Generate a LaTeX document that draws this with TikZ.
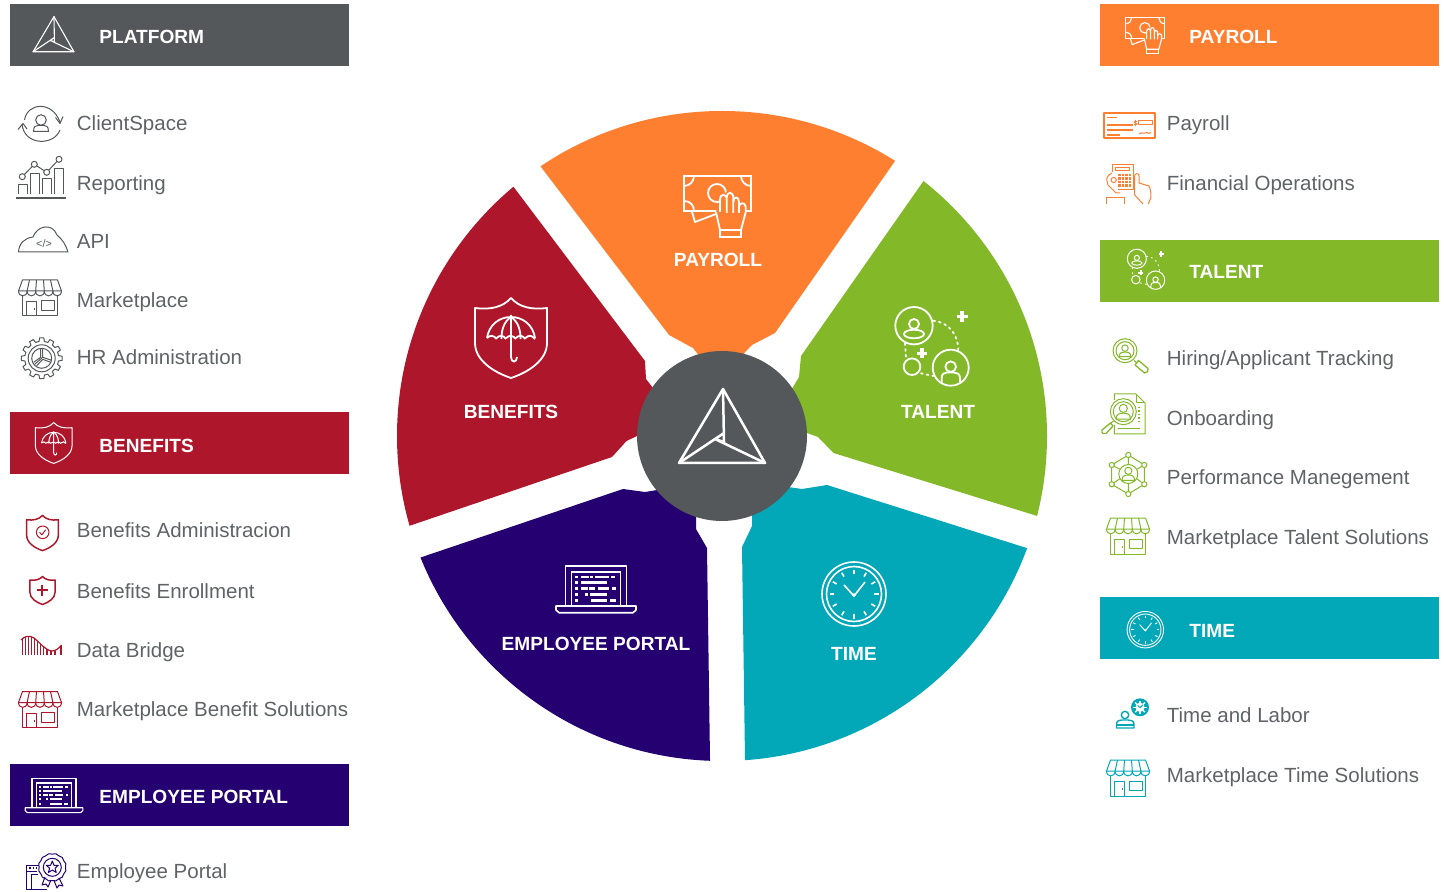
\documentclass[tikz,border=0pt]{standalone}
\usepackage{fontspec}
\setmainfont{Liberation Sans}
\definecolor{cGray}{HTML}{54585A}
\definecolor{cRed}{HTML}{AE172B}
\definecolor{cPurple}{HTML}{240070}
\definecolor{cOrange}{HTML}{FF7F30}
\definecolor{cGreen}{HTML}{83B828}
\definecolor{cTeal}{HTML}{02A7B8}
\definecolor{cText}{HTML}{5F6367}
\newcommand{\shieldoutline}{(0,-40) .. controls (-8,-31) and (-20,-28) .. (-36,-30) -- (-36,5) .. controls (-36,22) and (-18,34) .. (0,40) .. controls (18,34) and (36,22) .. (36,5) -- (36,-30) .. controls (20,-28) and (8,-31) .. cycle}
\tikzset{
  hdr/.style={anchor=base west,inner sep=0pt,text=white,font=\fontsize{9.55}{12}\selectfont\bfseries},
  wheellabel/.style={anchor=base,inner sep=0pt,text=white,font=\fontsize{9.55}{12}\selectfont\bfseries},
  item/.style={anchor=base west,inner sep=0pt,text=cText,font=\fontsize{10.25}{12}\selectfont},
  thin icon/.style={line width=.5pt,line join=round},
  pics/logo/.style={code={
    \draw[line join=round,line cap=round] (1,-37) -- (-43,37) -- (43,37) -- cycle;
    \draw[line cap=round] (-43,37) -- (2,7) (-7,13) -- (43,37) (1,-37) -- (2,16) -- (-7,13);
  }},
  pics/shieldshape/.style={code={
    \draw[line join=round] \shieldoutline;
  }},
  pics/umbrella/.style={code={
    \draw[line join=round] \shieldoutline;
    \draw[line join=round] (-24,0) .. controls (-22,-13) and (-12,-21) .. (0,-21) .. controls (12,-21) and (22,-13) .. (24,0);
    \foreach \s in {-24,-14.4,-4.8,4.8,14.4}
      \draw ({\s},0) .. controls ({\s+3},-3) and ({\s+6.6},-3) .. ({\s+9.6},1);
    \draw (0,-21) .. controls (-8,-16) and (-9.6,-6) .. (-9.6,1) (0,-21) .. controls (8,-16) and (9.6,-6) .. (9.6,1);
    \draw (0,-23) -- (0,19) .. controls (0,25) and (6,25) .. (6,19);
  }},
  pics/money/.style={code={
    \draw[line join=miter] (-34,-32) rectangle (33,3);
    \draw (-34,-22) .. controls (-28,-22) and (-24,-27) .. (-24,-32);
    \draw (23,-32) .. controls (23,-27) and (27,-22) .. (33,-22);
    \draw (-34,-7) .. controls (-28,-7) and (-24,-3) .. (-24,3);
    \draw (-1,-15) circle [radius=9];
    \draw[line join=round] (-26,4) -- (-23,14) -- (-2,6);
    \fill[#1,draw=none] (-2,4) -- (2,-9) -- (8,-16) -- (24,-8) -- (28,0) -- (28,4) -- (23,24) -- (2,24) -- cycle;
    \draw[line join=round] (-2,4) -- (2,22) -- (23,22) -- (27.7,4) -- (27.7,-1);
    \draw (2,22) -- (2,28.7) -- (23,28.7) -- (23,22);
    \draw (2,4) -- (2,-8) .. controls (2,-15) and (8.7,-15) .. (8.7,-8) -- (8.7,5);
    \draw (8.7,-10) .. controls (8.7,-17) and (15.3,-17) .. (15.3,-10) -- (15.3,5);
    \draw (15.3,-6) .. controls (15.3,-12) and (21,-12) .. (21,-6) -- (21,5);
    \draw (21,-1) .. controls (21,-6) and (27.7,-6) .. (27.7,-1);
  }},
  pics/talentpic/.style={code={
    \draw (-16,-19.3) circle [radius=18.7];
    \draw (20.7,22.7) circle [radius=18];
    \draw (-18,21.7) circle [radius=8.3];
    \draw (-16,-21) circle [radius=5];
    \draw (-16,-11) ellipse [x radius=10,y radius=4.3];
    \draw (20.7,21.7) circle [radius=5.3];
    \draw (11.7,38) -- (11.7,33) .. controls (11.7,29) and (14,27.5) .. (17,27.5) -- (24,27.5) .. controls (27,27.5) and (30,29) .. (30,33) -- (30,38);
    \draw[line width=1.35\pgflinewidth] (32,-34) -- (32,-23) (26.5,-28.7) -- (37.5,-28.7) (-8,3.3) -- (-8,13.3) (-13,8.3) -- (-3,8.3);
    \draw[dotted,line cap=round] (3.3,-24.3) .. controls (20,-22) and (28,-10) .. (28.3,5);
    \draw[dotted,line cap=round] (-25,-1.7) -- (-24,13.3);
    \draw[dotted,line cap=round] (-9,28.3) -- (3.3,31);
  }},
  pics/laptop/.style={code={
    \draw[line join=round] (-30.6,17) -- (-30.6,-23.3) -- (30.6,-23.3) -- (30.6,17);
    \draw (-24.5,17) -- (-24.5,-17.3) -- (24.5,-17.3) -- (24.5,17);
    \draw[line join=round] (-40,17) -- (40,17) -- (40,21) -- (37,23.7) -- (-37,23.7) -- (-40,21) -- cycle;
    \foreach \yy in {-12,-6.7,-.7,5.3,11.3} \fill (-21,{\yy-1.3}) rectangle (-18.4,{\yy+1.3});
    \foreach \xa/\xb/\yy in {-15/-7.4/-12,-6.2/-3/-12,-1/13/-12,15.4/19/-12,-15/11/-6.7,-15/-8/-.7,-7/-1/-.7,2/13/-.7,16/20/-.7,-11/-8/5.3,-6/11/5.3,-5/11/11.3,14/20/11.3}
      \fill (\xa,{\yy-1.2}) rectangle (\xb,{\yy+1.2});
  }},
  pics/clockpic/.style={code={
    \draw (0,0) circle [radius=32];
    \draw (0,0) circle [radius=27.5];
    \foreach \a in {0,30,...,330} \draw (\a:20) -- (\a:24.5);
    \draw[line join=round] (-10,-9) -- (0,2) -- (11,-12);
    \fill (0,1) circle [radius=1.8];
  }},
  pics/store/.style={code={
    \draw[line join=round] (-21.5,-7) -- (-17.5,-18) -- (17.5,-18) -- (21.5,-7) -- cycle;
    \foreach \s in {-21.5,-12.9,-4.3,4.3,12.9}
      \draw ({\s},-7) .. controls ({\s},-.5) and ({\s+8.6},-.5) .. ({\s+8.6},-7);
    \foreach \ta/\tb in {-10.5/-12.9,-3.5/-4.3,3.5/4.3,10.5/12.9} \draw (\ta,-18) -- (\tb,-7);
    \draw (-17.5,-2) -- (-17.5,18) -- (17.5,18) -- (17.5,-2);
    \draw (-13.3,18) -- (-13.3,3.7) -- (-3.3,3.7) -- (-3.3,18);
    \draw (-5.5,10) -- (-5.5,12);
    \draw (1.7,3) rectangle (14,12.7);
  }},
  pics/person/.style={code={
    \draw (0,-3) circle [radius=3.4];
    \draw[line join=round] (-6,6) .. controls (-6,1.5) and (-3,1) .. (0,1) .. controls (3,1) and (6,1.5) .. (6,6) -- cycle;
  }},
}
\begin{document}
\begin{tikzpicture}[x=.5pt,y=-.5pt]
\useasboundingbox (0,0) rectangle (1444,892);
% ---------- wheel ----------
\begin{scope}
\clip (722,436) circle [radius=325];
\fill[cOrange] (477,83) -- (669,335) -- (693,348) -- (697,353) -- (722,400) -- (745,352) -- (752,345) -- (775,333) -- (955,75) -- (722,50) -- cycle;
\fill[cRed] (454,108) -- (645,361) -- (646,379) -- (653,388) -- (680,436) -- (637,436) -- (626.5,441) -- (612,457) -- (350,546) -- (300,300) -- cycle;
\fill[cGreen] (983,96) -- (801,356) -- (799,377) -- (793,387) -- (770,436) -- (807,433) -- (818,437) -- (833.5,453) -- (1102,536) -- (1200,300) -- cycle;
\fill[cTeal] (1090,568) -- (827,485) -- (802,489) -- (788,487) -- (770,490) -- (752,515) -- (752,526) -- (742,547) -- (746,830) -- (1100,830) -- cycle;
\fill[cPurple] (360,578) -- (623,489) -- (645,492) -- (657,490) -- (680,490) -- (696,517) -- (696,529) -- (707,548) -- (711,830) -- (350,830) -- cycle;
\end{scope}
\fill[cGray] (722,436) circle [radius=85];
\pic[color=white,line width=1.25pt] at (722,426) {logo};
% wheel icons
\pic[color=white,line width=.9pt] at (718,208) {money=cOrange};
\pic[color=white,line width=.9pt] at (511,338) {umbrella};
\pic[color=white,line width=.9pt] at (930,345) {talentpic};
\pic[color=white,line width=.8pt] at (596,589) {laptop};
\pic[color=white,line width=.8pt] at (854,594) {clockpic};
% wheel labels
\node[wheellabel] (wPayroll) at (718,266.5) {PAYROLL};
\node[wheellabel] (wBenefits) at (511,419) {BENEFITS};
\node[wheellabel] (wTalent) at (938,419) {TALENT};
\node[wheellabel] (wPortal) at (596,650) {EMPLOYEE PORTAL};
\node[wheellabel] (wTime) at (854,660) {TIME};
% ---------- headers ----------
\fill[cGray] (10,4) rectangle (349,66);
\fill[cRed] (10,412) rectangle (349,474);
\fill[cPurple] (10,764) rectangle (349,826);
\fill[cOrange] (1100,4) rectangle (1439,66);
\fill[cGreen] (1100,240) rectangle (1439,302);
\fill[cTeal] (1100,597) rectangle (1439,659);
\node[hdr] (hPlatform) at (99,44) {PLATFORM};
\node[hdr] (hBenefits) at (99,452) {BENEFITS};
\node[hdr] (hPortal) at (99,803) {EMPLOYEE PORTAL};
\node[hdr] (hPayroll) at (1189,44) {PAYROLL};
\node[hdr] (hTalent) at (1189,279) {TALENT};
\node[hdr] (hTime) at (1189,637) {TIME};
\pic[color=white,line width=.55pt,scale=.475] at (53.5,34.2) {logo};
\pic[color=white,line width=.5pt,scale=.51] at (53.7,443) {umbrella};
\pic[color=white,line width=.55pt,scale=.72] at (54,795.5) {laptop};
\pic[color=white,line width=.55pt,scale=.58] at (1145.5,36.5) {money=cOrange};
\pic[color=white,line width=.5pt,scale=.51] at (1145,268.6) {talentpic};
\pic[color=white,line width=.45pt,scale=.57] at (1145.3,629.7) {clockpic};
% ---------- list texts ----------
\node[item] (tClient) at (76.5,131) {ClientSpace};
\node[item] (tReport) at (76.5,191) {Reporting};
\node[item] (tApi) at (76.5,249) {API};
\node[item] (tMarket) at (76.5,308) {Marketplace};
\node[item] (tHr) at (76.5,364.5) {HR Administration};
\node[item] (tBenAdm) at (76.5,537.5) {Benefits Administracion};
\node[item] (tBenEnr) at (76.5,598.5) {Benefits Enrollment};
\node[item] (tBridge) at (76.5,657.5) {Data Bridge};
\node[item] (tMktBen) at (76.5,716.5) {Marketplace Benefit Solutions};
\node[item] (tPortal) at (76.5,878.5) {Employee Portal};
\node[item] (tPayroll) at (1166.5,131) {Payroll};
\node[item] (tFin) at (1166.5,191) {Financial Operations};
\node[item] (tHire) at (1166.5,365.5) {Hiring/Applicant Tracking};
\node[item] (tOnb) at (1166.5,425.5) {Onboarding};
\node[item] (tPerf) at (1166.5,484.5) {Performance Manegement};
\node[item] (tMktTal) at (1166.5,544.5) {Marketplace Talent Solutions};
\node[item] (tLabor) at (1166.5,722.5) {Time and Labor};
\node[item] (tMktTime) at (1166.5,782.5) {Marketplace Time Solutions};
% ---------- store icons ----------
\pic[color=cGray,thin icon] at (40,298) {store};
\pic[color=cRed,thin icon] at (40,709.5) {store};
\pic[color=cGreen,thin icon] at (1128,536) {store};
\pic[color=cTeal,thin icon] at (1128,778) {store};
% ---------- platform icons ----------
\begin{scope}[cGray,thin icon]
  % ClientSpace
  \draw (24.5,120) .. controls (27,103) and (52,100) .. (60,122);
  \draw (55.5,117.5) -- (60,123.5) -- (63,116.5);
  \draw (22,124) .. controls (24,146) and (54,146) .. (60,130);
  \draw (18,129.5) -- (23,123.5) -- (27,129);
  \draw (41,120) circle [radius=5.3];
  \draw (33.5,131.5) .. controls (33.5,126) and (36,125.5) .. (38,125.5) -- (44,125.5) .. controls (46,125.5) and (48.5,126) .. (48.5,131.5) -- cycle;
  % Reporting
  \draw (18.3,194.3) -- (18.3,184.3) -- (27.3,184.3) -- (27.3,194.3);
  \draw (30.7,194.3) -- (30.7,173.3) -- (39.3,173.3) -- (39.3,194.3);
  \draw (42.3,194.3) -- (42.3,178.3) -- (51.7,178.3) -- (51.7,194.3);
  \draw (54.3,194.3) -- (54.3,168.3) -- (63.3,168.3) -- (63.3,194.3);
  \draw (22.3,176.7) -- (34.3,164.3) -- (46.7,172.3) -- (59,159.3);
  \fill[white,draw=cGray] (22.3,176.7) circle [radius=3] (34.3,164.3) circle [radius=3] (46.7,172.3) circle [radius=3] (59,159.3) circle [radius=3];
  \draw[line width=1.1pt] (16,197.7) -- (66,197.7);
  % API
  \draw (18.5,252) .. controls (19,243) and (25,238) .. (33,237) .. controls (37,226) and (52,222) .. (57,235) .. controls (62,239) and (66,245) .. (68,252) -- cycle;
  \node[text=cGray,inner sep=0pt,font=\fontsize{5.4}{6}\selectfont] (apiTag) at (44,243.5) {</>};
  % HR gear
  \begin{scope}[shift={(41.7,358.3)}]
    \draw (-9:17) \foreach \a in {0,30,...,330}{ -- ({\a-9}:17) -- ({\a-6}:20.5) -- ({\a+6}:20.5) -- ({\a+9}:17) } -- cycle;
    \draw (0,0) circle [radius=13.5];
    \draw (0,0) circle [radius=10];
    \draw (1,-1) -- (1,-10) (1,-1) -- (10,2) (1,-1) -- (-7,6);
    \draw (-1,-10) -- (-1,-1) -- (-8,4);
    \draw (1,1) -- (-5,7.5) (1,1) -- (9,4);
  \end{scope}
\end{scope}
% ---------- benefits icons ----------
\begin{scope}[cRed,thin icon]
  \pic[line width=.75pt,scale=.44] at (42.5,533) {shieldshape};
  \draw (42.7,532.3) circle [radius=6.3];
  \draw (39.6,532.3) -- (41.9,534.8) -- (45.6,529.8);
  \pic[line width=.75pt,scale=.35] at (42.5,590.5) {shieldshape};
  \draw[line width=1.1pt] (36.7,590.3) -- (47.9,590.3) (42.3,584.7) -- (42.3,595.9);
  % Data bridge
  \draw[line width=.6pt] (21,640) .. controls (24,636) and (30,635) .. (34,638) .. controls (40,642) and (44,650) .. (52,651) .. controls (56,651) and (59,648) .. (61.7,645);
  \foreach \vx/\vy in {22.5/639,25.5/637.3,28.5/636.7,31.5/637,34.5/638.3,37.5/640.5,40.5/643,43.5/645.5,47/648.5,51/650.7,55/650.5,61/646}
    \draw[line width=.6pt] (\vx,\vy) -- (\vx,655);
\end{scope}
% ---------- employee portal icon ----------
\begin{scope}[cPurple,thin icon]
  \draw (39,865) -- (26.7,865) -- (26.7,889.5) -- (47,889.5);
  \draw (26.7,871) -- (37,871);
  \draw[densely dotted,line width=.8pt] (29,868) -- (37,868);
  \draw (31,889.5) -- (31,874) -- (38,874);
  \draw (52.3,867.3) circle [radius=9];
  \draw (52.3,867.3) \foreach \a in {0,30,...,330}{ ++(0,0) } ;
  \draw (65.5,867.3) \foreach \a in {0,30,...,330}{ .. controls ({52.3+14.5*cos(\a+10)},{867.3+14.5*sin(\a+10)}) and ({52.3+14.5*cos(\a+20)},{867.3+14.5*sin(\a+20)}) .. ({52.3+13.2*cos(\a+30)},{867.3+13.2*sin(\a+30)}) } -- cycle;
  \draw (52.3,861) -- (54,865.3) -- (58.3,865.3) -- (55,868.2) -- (56.2,872.5) -- (52.3,870) -- (48.4,872.5) -- (49.6,868.2) -- (46.3,865.3) -- (50.6,865.3) -- cycle;
  \draw (45,877) -- (42,885) -- (46,884) -- (48,887) -- (51,880);
  \draw (59,878) -- (63,886) -- (59,885) -- (57,888) -- (54,880.5);
\end{scope}
% ---------- payroll icons ----------
\begin{scope}[cOrange,thin icon]
  \draw[line width=.95pt] (1104,113) rectangle (1155,138);
  \draw[line width=.75pt] (1107,117.7) -- (1117,117.7) (1107,125) -- (1133,125) (1107,130) -- (1133,130);
  \draw[line width=.9pt] (1107,135) -- (1120,135);
  \draw (1138.7,120.7) rectangle (1152,125);
  \draw[line width=.35pt] (1135.5,120) -- (1135.5,126) (1137,121.5) .. controls (1133,121) and (1133,123) .. (1135.5,123) .. controls (1138,123) and (1138,125) .. (1134,124.5);
  \draw (1139,134) .. controls (1142,131) and (1143,135) .. (1145,133) .. controls (1147,131) and (1148,135) .. (1151,132.5);
  % Financial operations
  \draw (1112,172) -- (1112,164.3) -- (1133,164.3) -- (1133,190) -- (1118,190);
  \draw (1115.5,168) rectangle (1129,171);
  \foreach \kx in {1118,1121.5,1125,1128.5} \foreach \ky in {174,177.4,180.8,184.2}
    \fill (\kx,\ky) rectangle ({\kx+2.5},{\ky+2.4});
  \draw (1112,173) .. controls (1108,175) and (1106,178) .. (1107,181) -- (1108,185) -- (1116,193) -- (1120,193);
  \draw (1113.7,180) circle [radius=2.6];
  \draw (1134.7,195) -- (1134.7,175.7) .. controls (1134.7,173) and (1139,173) .. (1139,175.7) -- (1139,183) -- (1149,186) .. controls (1151,190) and (1151,194) .. (1150.7,198.3) -- (1148,204);
  \draw (1134.7,195) -- (1143,204);
  \draw (1106.3,204.3) -- (1106.3,197.7) -- (1124,197.7) -- (1124,204.3);
\end{scope}
% ---------- talent icons ----------
\begin{scope}[cGreen,thin icon]
  % Hiring
  \draw (1125,350.7) circle [radius=12];
  \draw (1125,350.7) circle [radius=9];
  \pic[scale=.95] at (1125,351) {person};
  \draw (1134,360.5) -- (1136.5,362.5);
  \draw[line width=.65pt] (1135,365) -- (1138.5,360.5) -- (1148,368.5) .. controls (1149,371) and (1147,373) .. (1144.5,373) -- cycle;
  % Onboarding
  \draw (1114.3,400) -- (1114.3,394) -- (1136,394) -- (1145,403) -- (1145,434) -- (1114.3,434) -- (1114.3,425);
  \draw (1136,394) -- (1136,403) -- (1145,403);
  \draw (1118,429) -- (1140,429);
  \draw[densely dotted,line width=.7pt] (1139,407) -- (1139,423);
  \fill[white] (1123.3,411.7) circle [radius=13];
  \draw (1123.3,411.7) circle [radius=13];
  \draw (1123.3,411.7) circle [radius=10];
  \pic[scale=1.2] at (1123.3,412) {person};
  \draw (1113.5,421) -- (1109.5,424);
  \draw[line width=.65pt] (1110.5,423) -- (1102,430) .. controls (1101,433) and (1104,435) .. (1106,433.5) -- (1113,426) -- cycle;
  % Performance
  \draw (1128.3,474) circle [radius=9.5];
  \pic[scale=1.05] at (1128.3,474) {person};
  \draw (1128.3,455) -- (1144.3,465) -- (1144.3,484.3) -- (1128.3,494) -- (1111.7,484.3) -- (1111.7,465) -- cycle;
  \draw (1128.3,455) -- (1128.3,464.5) (1128.3,483.5) -- (1128.3,494) (1111.7,465) -- (1120,469.3) (1144.3,465) -- (1136.6,469.3) (1111.7,484.3) -- (1120,478.7) (1144.3,484.3) -- (1136.6,478.7);
  \fill[white,draw=cGreen] (1128.3,455) circle [radius=2.6] (1144.3,465) circle [radius=2.6] (1144.3,484.3) circle [radius=2.6] (1128.3,494) circle [radius=2.6] (1111.7,484.3) circle [radius=2.6] (1111.7,465) circle [radius=2.6];
\end{scope}
% ---------- time and labor icon ----------
\begin{scope}[cTeal,thin icon]
  \draw[line width=.7pt] (1125,715) circle [radius=3.7];
  \draw[line width=.7pt] (1116.5,728) -- (1116.5,724) .. controls (1116.5,720.5) and (1120,720) .. (1122,720) -- (1128,720) .. controls (1130,720) and (1134,720.5) .. (1134,724) -- (1134,728) -- cycle;
  \draw[line width=.7pt] (1116.5,725) -- (1134,725);
  \fill (1140,707.3) circle [radius=9];
  \fill[white] (1140,707.3) circle [radius=4.6];
  \foreach \a in {0,45,...,315} \draw[white,line width=.7pt] (1140,707.3) ++(\a:4) -- ++(\a:2.8);
  \draw[line width=.5pt] (1137.7,705.5) -- (1140,707.8) -- (1142.8,705);
\end{scope}
\end{tikzpicture}
\end{document}
